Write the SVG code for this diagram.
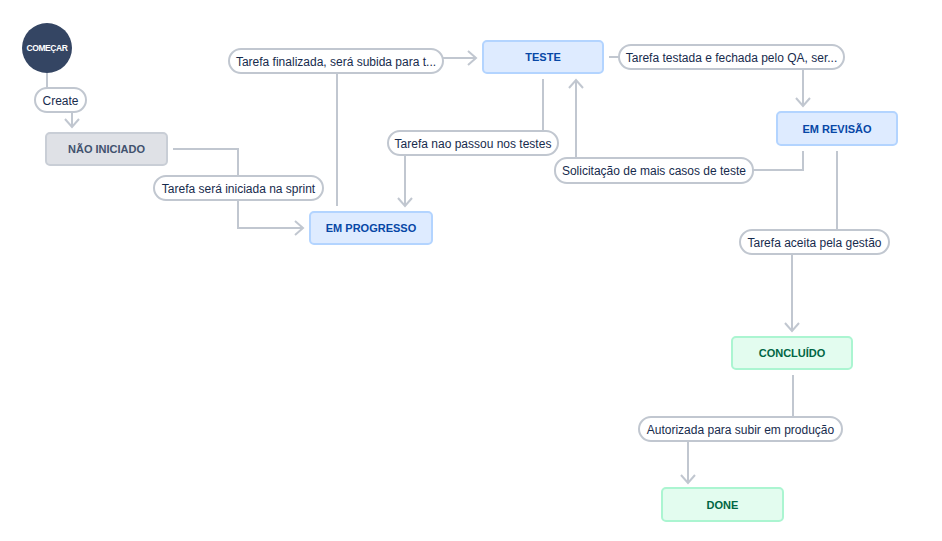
<svg xmlns="http://www.w3.org/2000/svg" width="942" height="541" viewBox="0 0 942 541">
<style>
.box{stroke-width:2}
.gray{fill:#dfe1e6;stroke:#c9ced6}
.blue{fill:#deebff;stroke:#b3d4ff}
.green{fill:#e3fcef;stroke:#abf5d1}
.bt{font-family:"Liberation Sans",Arial,sans-serif;font-size:11px;font-weight:bold;text-anchor:middle}
.pill{fill:#ffffff;stroke:#c1c7d0;stroke-width:2}
.pt{font-family:"Liberation Sans",Arial,sans-serif;font-size:12px;fill:#172b4d;text-anchor:middle}
.ln{fill:none;stroke:#c1c7d0;stroke-width:2}
</style>
<defs>
<marker id="arr" markerUnits="userSpaceOnUse" markerWidth="20" markerHeight="20" refX="10" refY="10" orient="auto" viewBox="0 0 20 20">
<path d="M2,3 L10,10 L2,17" fill="none" stroke="#c1c7d0" stroke-width="2"/>
</marker>
</defs>
<rect width="942" height="541" fill="#ffffff"/>
<g id="connectors">
<path class="ln" d="M47,72 L47,88"/>
<path class="ln" d="M72,112 L72,127" marker-end="url(#arr)"/>
<path class="ln" d="M173,149 L238,149 L238,176"/>
<path class="ln" d="M238,200 L238,228 L303,228" marker-end="url(#arr)"/>
<path class="ln" d="M337,206 L337,73"/>
<path class="ln" d="M443,58 L476,58" marker-end="url(#arr)"/>
<path class="ln" d="M543,79 L543,132"/>
<path class="ln" d="M405,155 L405,206" marker-end="url(#arr)"/>
<path class="ln" d="M609,57 L619,57"/>
<path class="ln" d="M803,69 L803,106" marker-end="url(#arr)"/>
<path class="ln" d="M803,151 L803,170 L753,170"/>
<path class="ln" d="M576,158 L576,80" marker-end="url(#arr)"/>
<path class="ln" d="M837,151 L837,230"/>
<path class="ln" d="M792,254 L792,331" marker-end="url(#arr)"/>
<path class="ln" d="M793,375 L793,417"/>
<path class="ln" d="M688,441 L688,483" marker-end="url(#arr)"/>
</g>
<g id="labels">
<g id="label-create"><rect class="pill" x="35" y="88" width="51" height="24" rx="12"/><text class="pt" x="60.5" y="104.5">Create</text></g>
<g id="label-iniciada"><rect class="pill" x="154" y="176" width="169" height="24" rx="12"/><text class="pt" x="238.5" y="192.5">Tarefa será iniciada na sprint</text></g>
<g id="label-finalizada"><rect class="pill" x="229" y="49" width="214" height="24" rx="12"/><text class="pt" x="336" y="65.5">Tarefa finalizada, será subida para t...</text></g>
<g id="label-naopassou"><rect class="pill" x="388" y="131" width="170" height="24" rx="12"/><text class="pt" x="473" y="147.5">Tarefa nao passou nos testes</text></g>
<g id="label-testada"><rect class="pill" x="619" y="45" width="225" height="24" rx="12"/><text class="pt" x="731.5" y="61.5">Tarefa testada e fechada pelo QA, ser...</text></g>
<g id="label-solicitacao"><rect class="pill" x="555" y="158" width="198" height="25" rx="12"/><text class="pt" x="654" y="175">Solicitação de mais casos de teste</text></g>
<g id="label-aceita"><rect class="pill" x="740" y="230" width="149" height="24" rx="12"/><text class="pt" x="814.5" y="246.5">Tarefa aceita pela gestão</text></g>
<g id="label-autorizada"><rect class="pill" x="639" y="417" width="203" height="24" rx="12"/><text class="pt" x="740.5" y="433.5">Autorizada para subir em produção</text></g>
</g>
<g id="node-comecar"><circle cx="47" cy="48" r="25" fill="#344563"/><text x="47" y="51" font-family="Liberation Sans,Arial,sans-serif" font-size="8.5" font-weight="bold" fill="#ffffff" text-anchor="middle" letter-spacing="-0.4">COMEÇAR</text></g>
<g id="node-naoiniciado"><rect class="box gray" x="46" y="133" width="121" height="32" rx="4"/><text class="bt" x="106.5" y="153" fill="#42526e">NÃO INICIADO</text></g>
<g id="node-emprogresso"><rect class="box blue" x="310" y="212" width="122" height="32" rx="4"/><text class="bt" x="371" y="232" fill="#0747a6">EM PROGRESSO</text></g>
<g id="node-teste"><rect class="box blue" x="483" y="41" width="120" height="32" rx="4"/><text class="bt" x="543" y="61" fill="#0747a6">TESTE</text></g>
<g id="node-emrevisao"><rect class="box blue" x="777" y="112" width="120" height="33" rx="4"/><text class="bt" x="837" y="132.5" fill="#0747a6">EM REVISÃO</text></g>
<g id="node-concluido"><rect class="box green" x="732" y="337" width="120" height="32" rx="4"/><text class="bt" x="792" y="357" fill="#006644">CONCLUÍDO</text></g>
<g id="node-done"><rect class="box green" x="662" y="488" width="121" height="33" rx="4"/><text class="bt" x="722.5" y="508.5" fill="#006644">DONE</text></g>
</svg>
